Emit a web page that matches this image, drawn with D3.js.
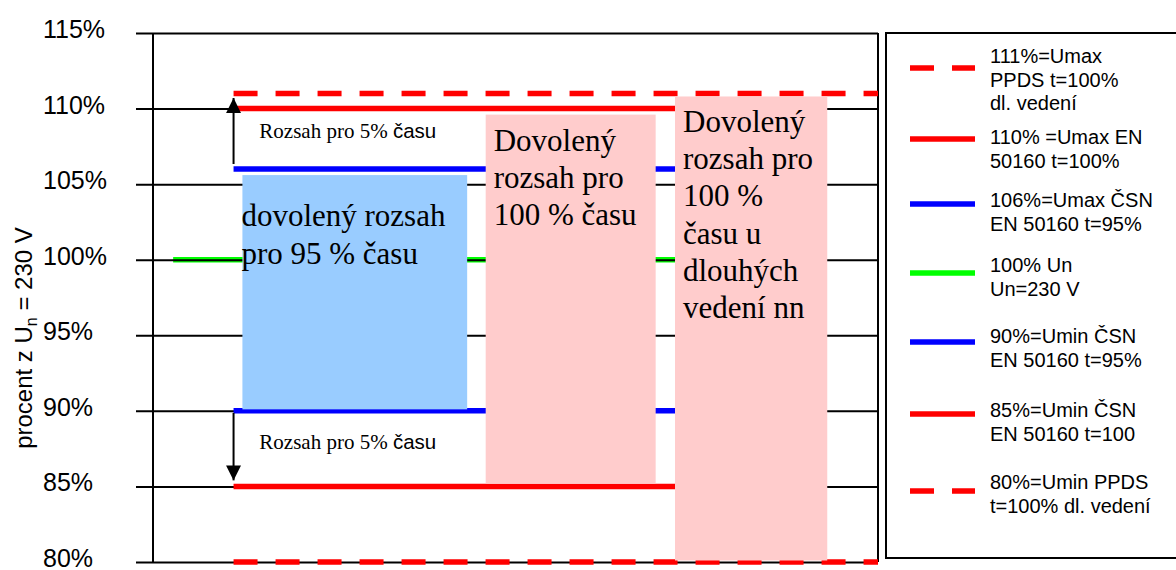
<!DOCTYPE html>
<html>
<head>
<meta charset="utf-8">
<script src="https://cdn.jsdelivr.net/npm/d3@7"></script>
<style>
  body { margin: 0; background: #fff; }
  svg { display: block; }
</style>
</head>
<body>
<script>
// voltage levels in % of Un, one line each
var levels = [111, 110, 106, 100, 90, 85, 80];
var lineColors = ["#ff0000", "#ff0000", "#0000ff", "#00ff00", "#0000ff", "#ff0000", "#ff0000"];
var lineDashed = [true, false, false, false, false, false, true];
// horizontal extent of each line (category units 0..9)
var lineFrom = [1, 1, 1, 0.25, 1, 1, 1];
var lineTo = [9, 6.6, 6.6, 6.6, 6.6, 6.6, 9];
var legendLabels = [
  ["111%=Umax", "PPDS t=100%", "dl. vedení"],
  ["110% =Umax EN", "50160 t=100%"],
  ["106%=Umax ČSN", "EN 50160 t=95%"],
  ["100% Un", "Un=230 V"],
  ["90%=Umin ČSN", "EN 50160 t=95%"],
  ["85%=Umin ČSN", "EN 50160 t=100"],
  ["80%=Umin PPDS", "t=100% dl. vedení"]
];
var yTicks = [80, 85, 90, 95, 100, 105, 110, 115];

// shaded ranges
var rangeFrom = [1.11, 4.13, 6.48];
var rangeTo = [3.90, 6.24, 8.37];
var rangeTop = [105.6, 109.6, 110.8];
var rangeBottom = [90.1, 85.2, 80.1];
var rangeColors = ["#99ccff", "#ffcccc", "#ffcccc"];
var rangeText = [
  ["dovolený rozsah", "pro 95 % času"],
  ["Dovolený", "rozsah pro", "100 % času"],
  ["Dovolený", "rozsah pro", "100 %", "času u", "dlouhých", "vedení nn"]
];
var rangeTextTop = [102.2, 107.2, 108.45];

// 5% arrows: from level to level
var arrowFrom = [106, 90];
var arrowTo = [110.7, 85.4];
var arrowLabelAt = [108.05, 87.5];

var W = 1176, H = 570;
var svg = d3.select("body").append("svg").attr("width", W).attr("height", H);

var x = d3.scaleLinear().domain([0, 9]).range([153, 878]);
var y = d3.scaleLinear().domain([80, 115]).range([562, 33]);

var serif = "'Liberation Serif', 'Times New Roman', serif";
var sans = "'Liberation Sans', Arial, sans-serif";

function drawLine(i) {
  svg.append("line")
    .attr("x1", x(lineFrom[i])).attr("x2", x(lineTo[i]))
    .attr("y1", y(levels[i])).attr("y2", y(levels[i]))
    .attr("stroke", lineColors[i]).attr("stroke-width", 5.5)
    .attr("stroke-dasharray", lineDashed[i] ? "24,18" : null);
}

// green reference line sits under the gridlines
drawLine(3);

// gridlines with tick stubs
var grid = svg.append("g").attr("transform", "translate(153,0)")
  .call(d3.axisLeft(y).tickValues(yTicks).tickSize(-(878 - 136)).tickFormat(""));
grid.select(".domain").remove();
grid.selectAll(".tick line").attr("x1", -17).attr("x2", 878 - 153)
  .attr("stroke", "#000").attr("stroke-width", 2);

// axis frame
svg.append("line").attr("x1", 153).attr("x2", 153).attr("y1", y(115)).attr("y2", y(80))
  .attr("stroke", "#000").attr("stroke-width", 2);
svg.append("line").attr("x1", 878).attr("x2", 878).attr("y1", y(115)).attr("y2", y(80))
  .attr("stroke", "#000").attr("stroke-width", 2);

// tick labels
svg.selectAll("text.ytick").data(yTicks).enter().append("text")
  .attr("class", "ytick")
  .attr("x", 43).attr("y", function(d) { return y(d) + 5; })
  .attr("font-family", sans).attr("font-size", 25)
  .text(function(d) { return d + "%"; });

// axis title
var title = svg.append("text")
  .attr("transform", "translate(32,338) rotate(-90)")
  .attr("text-anchor", "middle")
  .attr("font-family", sans).attr("font-size", 24);
title.append("tspan").text("procent z U");
title.append("tspan").attr("font-size", 16).attr("dy", 5).text("n");
title.append("tspan").attr("dy", -5).text(" = 230 V");

// other level lines
levels.forEach(function(d, i) { if (i !== 3) drawLine(i); });

// arrows
svg.append("defs").append("marker")
  .attr("id", "head").attr("viewBox", "0 0 10 10")
  .attr("refX", 10).attr("refY", 5)
  .attr("markerWidth", 15).attr("markerHeight", 15)
  .attr("markerUnits", "userSpaceOnUse")
  .attr("orient", "auto")
  .append("path").attr("d", "M0,0L10,5L0,10Z").attr("fill", "#000");

arrowFrom.forEach(function(d, i) {
  svg.append("line")
    .attr("x1", x(1)).attr("x2", x(1))
    .attr("y1", y(d) + (i === 0 ? -5 : 2)).attr("y2", y(arrowTo[i]))
    .attr("stroke", "#000").attr("stroke-width", 2)
    .attr("marker-end", "url(#head)");
  var t = svg.append("text")
    .attr("x", x(1.32)).attr("y", y(arrowLabelAt[i]))
    .attr("font-family", serif).attr("font-size", 21);
  t.append("tspan").text("Rozsah pro 5% ");
  t.append("tspan").attr("font-family", sans).attr("font-size", 20.5).text("času");
});

// shaded ranges with labels
rangeText.forEach(function(lines, i) {
  svg.append("rect")
    .attr("x", x(rangeFrom[i])).attr("y", y(rangeTop[i]))
    .attr("width", x(rangeTo[i]) - x(rangeFrom[i]))
    .attr("height", y(rangeBottom[i]) - y(rangeTop[i]))
    .attr("fill", rangeColors[i]);
  var tx = i === 0 ? x(rangeFrom[i]) - 1 : x(rangeFrom[i]) + 8;
  svg.append("text")
    .attr("font-family", serif).attr("font-size", 31)
    .selectAll("tspan").data(lines).enter().append("tspan")
    .attr("x", tx)
    .attr("y", function(d, k) { return y(rangeTextTop[i]) + k * (i === 0 ? 38 : 37.2); })
    .text(function(d) { return d; });
});

// legend
svg.append("rect").attr("x", 886).attr("y", 33).attr("width", 320).attr("height", 525)
  .attr("fill", "none").attr("stroke", "#000").attr("stroke-width", 2);
var legendRowY = [68, 139, 204, 273, 342, 414, 491];
var legendTextY = [63, 144, 207, 272, 343, 417, 489];
legendLabels.forEach(function(lines, i) {
  svg.append("line")
    .attr("x1", 910).attr("x2", 975)
    .attr("y1", legendRowY[i]).attr("y2", legendRowY[i])
    .attr("stroke", lineColors[i]).attr("stroke-width", 5.5)
    .attr("stroke-dasharray", lineDashed[i] ? "24,18" : null);
  svg.append("text")
    .attr("font-family", sans).attr("font-size", 20)
    .selectAll("tspan").data(lines).enter().append("tspan")
    .attr("x", 990)
    .attr("y", function(d, k) { return legendTextY[i] + k * 23.5; })
    .text(function(d) { return d; });
});
</script>
</body>
</html>
